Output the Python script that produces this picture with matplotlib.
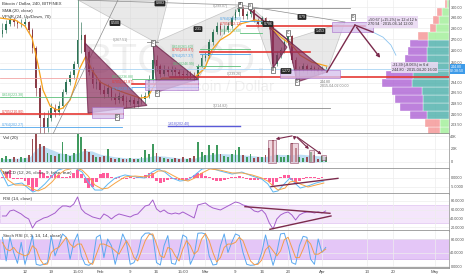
import numpy as np
import matplotlib.pyplot as plt
from matplotlib.patches import Polygon, Rectangle
from matplotlib.transforms import blended_transform_factory
from matplotlib.ticker import NullLocator, NullFormatter

plt.rcParams['font.family'] = ['Liberation Sans', 'DejaVu Sans']

# days counted from 1 Jan 2015 (= 0), one bar per day
bar_days = list(range(5, 92))
first_open = 275.0
closes = [278.4, 284.0, 287.8, 285.9, 284.0, 284.0, 285.9, 278.4, 262.2, 229.8,
          208.1, 201.3, 208.1, 215.1, 212.3, 216.5, 226.8, 234.4, 239.9, 248.8,
          269.3, 273.8, 258.8, 242.3, 232.9, 234.4, 228.3, 225.3, 229.8, 223.1,
          220.9, 223.8, 220.1, 219.4, 220.9, 218.0, 220.1, 221.6, 223.8, 236.0,
          252.1, 247.1, 240.7, 243.9, 242.3, 243.9, 242.3, 240.7, 239.9, 240.7,
          239.1, 237.5, 247.1, 253.7, 255.4, 267.5, 276.5, 282.1, 278.4, 278.4,
          282.1, 289.7, 295.5, 299.5, 291.6, 293.6, 297.5, 287.8, 284.0, 289.7,
          285.9, 282.1, 248.8, 256.2, 260.5, 267.5, 272.9, 252.1, 237.5, 243.9,
          247.1, 243.9, 245.5, 243.9, 242.3, 243.9, 244.8]
highs = [285, 288, 292, 291, 288, 289, 290, 287, 280, 264,
         232, 212, 214, 219, 218, 220, 229, 237, 243, 251,
         310, 286, 275, 261, 246, 240, 236, 232, 233, 230,
         226, 227, 225, 224, 224, 223, 223, 225, 227, 240,
         268, 256, 249, 248, 247, 247, 246, 245, 244, 244,
         243, 242, 249, 257, 259, 270, 279, 286, 285, 283,
         286, 292, 298, 302, 301, 297, 300, 299, 290, 292,
         291, 288, 283, 260, 263, 270, 276, 274, 255, 247,
         250, 249, 248, 247, 246, 247, 247]
lows = [272, 276, 282, 282, 280, 281, 281, 276, 258, 224,
        195, 185, 199, 206, 209, 210, 215, 225, 232, 237,
        246, 258, 256, 240, 230, 229, 225, 222, 223, 221,
        218, 219, 217, 216, 217, 215, 216, 218, 219, 222,
        234, 243, 238, 239, 239, 240, 239, 238, 237, 237,
        236, 235, 236, 246, 251, 254, 265, 275, 274, 275,
        277, 280, 288, 292, 289, 289, 291, 286, 281, 283,
        283, 279, 245, 247, 254, 258, 265, 250, 235, 237,
        242, 241, 242, 241, 240, 241, 242]
volume_k = [6, 9, 5, 7, 5, 8, 6, 10, 35, 50,
            28, 24, 14, 10, 9, 12, 31, 12, 9, 14,
            48, 38, 20, 16, 10, 8, 7, 9, 20, 6,
            5, 6, 4, 5, 6, 4, 5, 7, 18, 12,
            28, 14, 8, 6, 5, 4, 6, 5, 7, 5,
            6, 9, 31, 15, 11, 26, 14, 26, 12, 9,
            8, 12, 18, 23, 10, 7, 12, 6, 8, 7,
            10, 22, 34, 10, 7, 8, 10, 29, 22, 8,
            6, 7, 16, 10, 5, 9, 7]
macd_hist = [0.5, 3.5, 4.5, -0.6, -0.8, -0.5, -1.5, -4.0, -7.5, -5.0,
             4.5, 2.5, 1.0, 1.5, 2.0, 1.5, 0.8, 0.5, 1.0, 3.0,
             4.5, 2.0, -3.0, -5.5, -5.0, -2.0, 2.0, 3.0, 2.5, 0.5,
             -0.5, 0.5, -0.5, -0.3, 0.3, -0.5, 0.3, 0.5, 1.5, 2.5,
             3.0, -1.5, -2.8, -2.0, -1.0, -0.5, -0.5, -1.0, -1.3, -1.0,
             0.5, 1.5, 2.8, 2.5, 1.0, 0.5, -1.0, -1.7, -1.5, -1.0,
             -0.5, 0.3, 0.8, 1.0, 0.5, -0.3, -1.0, -1.2, -1.0, -0.5,
             -0.5, -2.5, -3.9, -2.5, 0.5, 1.7, 1.5, -1.0, -2.8, -1.5,
             -0.5, 0.3, 0.5, 0.3, -0.3, 0.3, 0.2]
rsi = [45.5, 45.5, 57.0, 59.3, 54.7, 50.1, 43.2, 38.6, 17.9, 31.7,
       36.3, 40.9, 43.2, 47.8, 52.4, 61.6, 68.5, 68.5, 66.2, 73.1,
       89.2, 61.6, 52.4, 47.8, 43.2, 40.9, 38.6, 50.1, 45.5, 38.6,
       45.5, 50.1, 47.8, 45.5, 43.2, 47.8, 50.1, 59.3, 68.5, 70.8,
       82.3, 61.6, 54.7, 59.3, 52.4, 50.1, 52.4, 50.1, 54.7, 50.1,
       45.5, 40.9, 70.8, 73.1, 75.4, 68.5, 63.9, 61.6, 59.3, 63.9,
       68.5, 73.1, 77.7, 75.4, 70.8, 68.5, 63.9, 57.0, 54.7, 59.3,
       50.1, 29.4, 15.6, 38.6, 47.8, 52.4, 54.7, 47.8, 36.3, 47.8,
       52.4, 54.7, 54.7, 52.4, 54.7, 52.4, 57.0]
stoch_k = [85, 15, 85, 40, 8, 70, 5, 45, 90, 5,
           2, 5, 10, 88, 30, 60, 95, 85, 20, 70,
           95, 30, 5, 2, 10, 85, 92, 25, 80, 60,
           5, 50, 95, 70, 5, 10, 35, 85, 97, 98,
           90, 10, 3, 60, 90, 8, 5, 40, 92, 85,
           5, 30, 97, 98, 95, 30, 3, 5, 60, 95,
           40, 70, 95, 90, 40, 5, 2, 3, 8, 40,
           92, 45, 2, 40, 95, 97, 60, 10, 5, 60,
           88, 85, 20, 5, 80, 40, 55]
stoch_d = [70, 50, 45, 55, 40, 35, 30, 35, 60, 50,
           20, 4, 6, 40, 50, 55, 70, 85, 65, 55,
           65, 65, 40, 10, 5, 35, 65, 65, 60, 55,
           45, 35, 55, 75, 55, 25, 15, 45, 75, 93,
           95, 65, 30, 25, 55, 50, 30, 15, 50, 75,
           60, 35, 45, 80, 96, 75, 40, 12, 25, 55,
           65, 65, 70, 85, 75, 45, 15, 4, 5, 18,
           48, 60, 45, 30, 45, 78, 85, 55, 25, 25,
           50, 78, 65, 35, 35, 42, 50]

# orange moving average, read as (day, price)
ma_days = [4.4, 8.4, 11.0, 12.9, 14.5, 15.8, 17.7, 19.5, 21.1, 23.0, 24.3, 25.6,
           27.2, 28.8, 31.0, 34.2, 37.6, 41.6, 43.7, 45.6, 47.5, 52.2, 56.2, 58.9,
           60.7, 62.9, 65.5, 68.2, 72.2, 74.8, 76.7, 79.4, 82.0, 84.2, 87.3, 91.3]
ma_vals = [289.7, 287.8, 282.1, 271.1, 247.9, 228.3, 216.5, 213.7, 215.1, 220.9, 231.9, 245.5,
           255.4, 243.9, 234.4, 229.8, 226.1, 222.3, 223.1, 232.9, 237.5, 237.5, 238.3, 245.5,
           260.5, 269.3, 274.7, 284.0, 287.8, 285.9, 279.3, 271.1, 264.9, 256.2, 250.4, 247.1]

# volume moving average (K)
vma_days = [4.4, 9.7, 12.3, 13.9, 15.5, 17.7, 20.3, 23.0, 25.1, 26.7, 28.8, 31.0, 35.0, 38.9, 42.9,
            45.6, 48.2, 52.2, 56.2, 58.9, 62.9, 66.9, 70.9, 74.8, 77.5, 81.5, 84.2, 88.1, 90.8]
vma_vals = [5, 6, 8, 20, 25, 20, 14, 11, 14, 18, 17, 12, 8, 6, 7,
            10, 9, 6, 6, 11, 13, 12, 10, 8, 12, 11, 12, 10, 9]

# MACD and signal lines (day, value)
macd_days = [4.4, 6.5, 8.4, 10.2, 11.8, 13.1, 14.5, 16.3, 18.2, 19.8,
             21.7, 24.3, 26.2, 27.8, 29.6, 31.5, 33.1, 35.0, 37.6, 40.3,
             42.9, 44.8, 46.4, 48.2, 50.1, 52.2, 54.4, 56.2, 58.1, 60.2,
             62.9, 66.1, 68.7, 71.4, 74.0, 75.6, 77.0, 78.3, 80.2, 81.5,
             82.8, 84.2, 86.3, 88.4, 90.5]
macd_line = [4.4, -4.4, -3.3, -2.8, -5.6, -7.8, -6.7, -3.3, 1.1, 4.4,
             5.6, 5.6, 3.3, -2.2, -6.7, -6.7, -3.3, 0.0, 1.7, 0.6,
             0.0, 3.3, 5.0, 3.3, 0.0, -1.7, -1.1, 1.7, 5.0, 5.6,
             3.9, 2.2, 3.3, 1.1, -0.6, -3.3, -7.8, -7.2, -2.8, 0.0,
             -2.8, -5.6, -4.4, -2.8, -1.7]
signal_line = [5.6, -1.1, -3.9, -3.9, -4.4, -6.1, -7.2, -5.6, -2.2, 1.7,
               4.4, 5.6, 4.4, 1.1, -3.9, -6.1, -5.6, -2.8, 0.6, 1.1,
               0.6, 1.7, 3.9, 3.9, 1.7, -0.6, -1.7, 0.0, 2.8, 5.0,
               4.4, 2.8, 2.8, 1.7, 0.0, -1.7, -4.4, -6.7, -5.6, -2.2,
               -1.7, -3.3, -5.0, -3.9, -2.8]

# volume profile rows, bottom to top
vp_edges = [197.1, 202.3, 207.7, 213.2, 218.9, 224.7, 230.6, 236.7, 243.0, 249.4,
            256.0, 262.8, 269.8, 277.0, 284.3, 291.8, 299.6, 307.5]
vp_up = [9, 9, 22, 26, 26, 27, 37, 36, 29, 22, 22, 21, 21, 13, 10, 7, 2]
vp_down = [12, 15, 17, 23, 28, 30, 30, 27, 27, 22, 19, 18, 10, 6, 6, 5, 2]
vp_value_area = [False, False, True, True, True, True, True, True, True, True,
                 True, True, False, False, False, False, False]

# axis ticks
date_ticks = [11, 18, 25, 31, 39, 46, 53, 59, 67, 74, 81, 90, 102, 109, 120]
date_labels = ['12', '19', '15:00', 'Feb', '9', '16', '15:00', 'Mar', '9', '16', '23',
               'Apr', '13', '20', 'May']
price_ticks = [300, 290, 280, 270, 260, 250, 234, 226.5, 218.5, 210.5, 203.5]
price_labels = ['300.00', '290.00', '280.00', '270.00', '260.00', '250.00', '234.00',
                '226.50', '218.50', '210.50', '203.50']
last_price = 244.80

# drawings on the price chart (day, price)
GREEN, RED, BLUE, GRAY, VIOLET, PINK = '#5cbf7a', '#e53935', '#4da3ea', '#8a8a8a', '#5a5ad8', '#f2a3a3'
fib_lines = [
    (223.38, 4.4, 36.8, GREEN, 0.6), (210.80, 4.4, 37.1, RED, 1.2), (202.27, 4.4, 36.8, BLUE, 0.6),
    (237.5, 4.4, 36.3, PINK, 0.6),
    (236.88, 39.5, 57.0, GREEN, 0.6), (232.87, 39.5, 57.0, RED, 1.2), (230.64, 39.5, 57.0, BLUE, 0.6),
    (261.62, 57.6, 70.9, GREEN, 0.6), (258.87, 57.6, 86.8, RED, 1.2), (257.37, 57.6, 70.9, BLUE, 0.6),
    (246.99, 56.6, 68.2, GREEN, 0.6), (238.4, 49.6, 123.8, RED, 1.2),
    (214.82, 35.0, 92.1, GRAY, 0.6), (202.40, 49.0, 68.2, VIOLET, 1.0),
    (267.51, 43.5, 46.4, GRAY, 0.6), (299.07, 67.4, 97.5, GRAY, 0.6),
    (286.93, 68.2, 74.0, BLUE, 0.6), (282.12, 70.0, 101.4, RED, 1.2), (275.60, 68.2, 74.0, GREEN, 0.6),
]
fib_labels = [
    ('0.618(223.38)', 4.9, 223.38, GREEN, 'bottom'), ('0.705(210.80)', 4.9, 210.80, RED, 'bottom'),
    ('0.764(202.27)', 4.9, 202.27, BLUE, 'bottom'),
    ('0.618(236.88)', 34.2, 236.88, GREEN, 'bottom'), ('0.705(232.87)', 34.2, 232.87, RED, 'bottom'),
    ('0.764(230.64)', 34.2, 230.64, BLUE, 'top'), ('0(267.51)', 34.3, 267.51, GRAY, 'bottom'),
    ('0.618(261.62)', 50.1, 261.62, GREEN, 'bottom'), ('0.705(258.87)', 50.1, 258.87, RED, 'bottom'),
    ('0.764(257.37)', 50.1, 257.37, BLUE, 'top'), ('0.618(246.99)', 50.4, 246.99, GREEN, 'bottom'),
    ('0(239.26)', 64.7, 239.26, GRAY, 'bottom'), ('1(214.82)', 61.0, 214.82, GRAY, 'bottom'),
    ('1.618(202.40)', 49.0, 202.40, VIOLET, 'bottom'), ('0(299.07)', 61.0, 299.07, GRAY, 'bottom'),
    ('0.764(286.93)', 62.9, 286.93, BLUE, 'bottom'), ('0.705(282.12)', 62.9, 282.12, RED, 'bottom'),
    ('0.618(275.60)', 62.9, 275.60, GREEN, 'bottom'),
]
purple_triangles = [
    [(26.97, 266.7), (27.77, 211.6), (43.46, 217.0)],
    [(45.05, 266.6), (46.12, 226.8), (57.02, 236.7)],
    [(76.17, 281.2), (76.97, 245.5), (80.69, 263.1)],
    [(80.96, 269.3), (83.35, 234.4), (91.33, 242.3)],
]
gray_triangles = [
    [(25.11, 307.5), (46.12, 266.6), (49.04, 307.5)],
    [(45.05, 266.6), (57.02, 236.7), (68.19, 302.4)],
    [(70.85, 301.5), (76.97, 243.9), (80.96, 269.3)],
    [(80.96, 269.3), (96.12, 285.9), (91.33, 242.3)],
]
gray_lines = [
    [(18.46, 197.4), (35.74, 307.5)],
    [(25.11, 307.5), (68.19, 302.4)],
    [(68.19, 302.4), (96.12, 285.9)],
]
maroon_lines = [
    [(70.85, 297.5), (80.96, 269.3)],
    [(91.33, 242.3), (98.78, 283.0)],
    [(98.78, 283.0), (103.56, 276.5)],
]
projection_arrow = [(98.78, 283.0), (105.96, 252.1)]
arc_points = [(103.56, 276.5), (106.22, 272.0), (108.35, 264.9), (109.68, 256.2)]
lav_boxes = [
    (28.83, 37.07, 208.1, 215.8), (42.93, 57.02, 228.3, 236.0),
    (78.8, 94.8, 237.5, 243.9), (92.66, 103.56, 276.5, 285.9),
]
ratio_tags = [('0.500', 34.95, 284.9), ('0.883', 46.91, 304.0), ('2.31', 57.02, 279.3),
              ('0.786', 75.64, 284.0), ('0.79', 84.68, 290.7), ('1.453', 89.47, 277.4),
              ('1.272', 80.43, 243.1)]
point_tags = [('D', 35.48, 208.8), ('C', 45.05, 266.6), ('D', 46.12, 226.1), ('A', 68.19, 303.2),
              ('X', 70.85, 301.5), ('B', 76.97, 243.9), ('C', 80.96, 275.6), ('D', 83.35, 234.4),
              ('D', 98.25, 290.7)]
measure_tags = [
    ('+50.67 (+15.2%) in 12 d 12 h\n270.94 · 2015-04-14 12:00', 102.2, 285.9),
    ('-21.39 (-8.06%) in 6 d\n244.80 · 2015-04-20 16:00', 108.6, 246.3),
]
# volume panel highlights (day0, day1, K0, K1) and arrows from one point
vol_boxes = [(75.6, 77.8, -1.5, 33.9), (81.5, 83.6, -1.5, 29.3), (86.5, 87.9, 0, 18.5), (89.7, 91.1, 3.1, 10.8)]
vol_arrow_from = (82.8, 41.0)
vol_arrow_to = [(76.97, 34.5), (82.5, 29.5), (87.07, 17.0), (90.5, 9.2)]
macd_trend = [(76.44, -4.8), (94.26, -0.2)]
rsi_trend_hi = [(69.52, 66.9), (92.13, 51.7)]
rsi_trend_lo = [(76.17, 14.9), (92.40, 45.5)]

UP, DOWN = '#2f7457', '#8b3c46'
MAROON = '#7b2a4c'

W, H = 466, 275
PLOT_R = 449
fig = plt.figure(figsize=(W / 100, H / 100), dpi=100)


def add_panel(top, bottom, share=None):
    return fig.add_axes([0, 1 - bottom / H, PLOT_R / W, (bottom - top) / H], sharex=share)


ax = add_panel(0, 134)
ax_vol = add_panel(134, 169, ax)
ax_macd = add_panel(169, 194, ax)
ax_rsi = add_panel(194, 231, ax)
ax_st = add_panel(231, 268, ax)
panels = [ax, ax_vol, ax_macd, ax_rsi, ax_st]

for a in panels:
    a.yaxis.tick_right()
    a.tick_params(axis='both', length=0, labelsize=2.7, labelcolor='#4a4a4a', pad=1.0)
    a.spines['top'].set_visible(False)
    a.spines['left'].set_visible(False)
    a.spines['right'].set_color('#a0a0a0')
    a.spines['right'].set_linewidth(0.6)
    a.spines['bottom'].set_color('#8a8a8a')
    a.spines['bottom'].set_linewidth(1.1)
    a.grid(True, color='#ededed', lw=0.5)
    a.set_axisbelow(True)
for a in panels[:-1]:
    a.tick_params(labelbottom=False)
ax_st.tick_params(axis='x', labelsize=3.2, pad=1.5)

# ---- price panel
ax.set_yscale('log')
opens = [first_open] + closes[:-1]
cols = [UP if c >= o else DOWN for o, c in zip(opens, closes)]
ax.vlines(bar_days, lows, highs, colors=cols, lw=0.45, zorder=2)
ax.bar(bar_days, [max(abs(c - o), 0.4) for o, c in zip(opens, closes)],
       bottom=[min(o, c) for o, c in zip(opens, closes)], width=0.45, color=cols, zorder=2)
ax.plot(ma_days, ma_vals, color='#f7a21b', lw=0.9, zorder=2.5)

for tri in gray_triangles:
    ax.add_patch(Polygon(tri, closed=True, fc='#cfcfcf', ec='#8c8c8c', lw=0.5, alpha=0.45, zorder=1.8))
for tri in purple_triangles:
    ax.add_patch(Polygon(tri, closed=True, fc='#8a2e5c', ec='#6e1f47', lw=0.8, alpha=0.72, zorder=3))
for seg in gray_lines:
    xs, ys = zip(*seg)
    ax.plot(xs, ys, color='#8c8c8c', lw=0.5, zorder=2.6)
for seg in maroon_lines:
    xs, ys = zip(*seg)
    ax.plot(xs, ys, color=MAROON, lw=1.0, zorder=3.2)
ax.annotate('', xy=projection_arrow[1], xytext=projection_arrow[0],
            arrowprops=dict(arrowstyle='-|>', color=MAROON, lw=1.0, mutation_scale=5), zorder=3.2)
ax.plot(*zip(*arc_points), color='#8cc4ef', lw=0.6, zorder=3)

for price, d0, d1, c, lw in fib_lines:
    ax.plot([d0, d1], [price, price], color=c, lw=lw, zorder=2.7)
ax.axhline(last_price, color='#a9d4f4', lw=0.6, zorder=2.6)
for txt, d, price, c, va in fib_labels:
    ax.text(d, price, txt, color=c, fontsize=2.5, ha='left', va=va, zorder=6)

for d0, d1, p0, p1 in lav_boxes:
    ax.add_patch(Rectangle((d0, p0), d1 - d0, p1 - p0, fc='#d8c4ee', ec='#a56ac8', lw=0.5,
                           alpha=0.8, zorder=3.1))
for txt, d, price in ratio_tags:
    ax.text(d, price, txt, color='white', fontsize=2.6, ha='center', va='center', zorder=7,
            bbox=dict(boxstyle='round,pad=0.25', fc='#262626', ec='none'))
for txt, d, price in point_tags:
    ax.text(d, price, txt, color='#222', fontsize=2.4, ha='center', va='center', zorder=7,
            bbox=dict(boxstyle='square,pad=0.2', fc='white', ec='#333', lw=0.4))
for txt, d, price in measure_tags:
    ax.text(d, price, txt, color='#333', fontsize=2.7, ha='left', va='center', zorder=7,
            linespacing=1.3, bbox=dict(boxstyle='square,pad=0.3', fc='#e9d9f2', ec='none', alpha=0.9))
ax.text(89.5, 232.9, '244.80\n2015-04-02 00:00', color='#777', fontsize=2.6, ha='left', va='center',
        zorder=7, linespacing=1.3)

# volume profile, drawn from the right edge
trans = blended_transform_factory(ax.transAxes, ax.transData)
for i in range(len(vp_up)):
    b, t = vp_edges[i], vp_edges[i + 1]
    up_w, dn_w = vp_up[i] / PLOT_R, vp_down[i] / PLOT_R
    cu, cd = ('#55b3ae', '#b26bd6') if vp_value_area[i] else ('#a5ef9d', '#f59999')
    ax.add_patch(Rectangle((1 - up_w, b), up_w, t - b, transform=trans, fc=cu, alpha=0.85,
                           ec='white', lw=0.3, zorder=1.6))
    ax.add_patch(Rectangle((1 - up_w - dn_w, b), dn_w, t - b, transform=trans, fc=cd, alpha=0.85,
                           ec='white', lw=0.3, zorder=1.6))

ax.text(75.6, 242.3, 'BTCUSD,', fontsize=30, color='black', alpha=0.06, ha='right', va='baseline', zorder=1)
ax.text(77.2, 227.6, 'Bitcoin / Dollar', fontsize=11, color='black', alpha=0.06, ha='right',
        va='baseline', zorder=1)

ax.text(0.005, 0.985, 'Bitcoin / Dollar, 240, BITFINEX', transform=ax.transAxes, fontsize=3.2,
        color='#333', va='top', zorder=8)
ax.text(0.005, 0.935, 'SMA (20, close)', transform=ax.transAxes, fontsize=3.2, color='#333', va='top', zorder=8)
ax.text(0.005, 0.885, 'VPVR (24, Up/Down, 70)', transform=ax.transAxes, fontsize=3.2, color='#333',
        va='top', zorder=8)

ax.set_ylim(197.4, 307.5)
ax.yaxis.set_minor_locator(NullLocator())
ax.yaxis.set_minor_formatter(NullFormatter())
ax.set_yticks(price_ticks)
ax.set_yticklabels(price_labels)
ax.text(1.003, last_price, '244.80\n02:38:50', transform=trans, fontsize=2.6, color='white',
        ha='left', va='center', linespacing=1.2, clip_on=False, zorder=9,
        bbox=dict(boxstyle='square,pad=0.2', fc='#3d9be9', ec='none'))

# ---- volume
ax_vol.fill_between(vma_days, vma_vals, color='#a9d3f0', alpha=0.75, lw=0, zorder=1)
vcols = ['#3f9a5e' if c == UP else '#9a4d52' for c in cols]
ax_vol.bar(bar_days, volume_k, width=0.5, color=vcols, zorder=2)
for d0, d1, k0, k1 in vol_boxes:
    ax_vol.add_patch(Rectangle((d0, k0), d1 - d0, k1 - k0, fc='#e3b8c8', ec=MAROON, lw=0.6,
                               alpha=0.55, zorder=3))
for end in vol_arrow_to:
    ax_vol.annotate('', xy=end, xytext=vol_arrow_from, zorder=4,
                    arrowprops=dict(arrowstyle='-|>', color=MAROON, lw=0.8, mutation_scale=4))
ax_vol.set_ylim(-10.8, 43.1)
ax_vol.set_yticks([40, 20, 0])
ax_vol.set_yticklabels(['40K', '20K', '0'])
ax_vol.text(0.006, 0.93, 'Vol (20)', transform=ax_vol.transAxes, fontsize=3.2, color='#333', va='top')

# ---- MACD
ax_macd.bar(bar_days, macd_hist, width=0.75, color='#ff5c9b', zorder=2)
ax_macd.plot(macd_days, macd_line, color='#5db8f3', lw=0.7, zorder=3)
ax_macd.plot(macd_days, signal_line, color='#f7a445', lw=0.7, zorder=3)
ax_macd.plot(*zip(*macd_trend), color=MAROON, lw=1.0, zorder=4)
ax_macd.set_ylim(-8.9, 5.0)
ax_macd.set_yticks([0, -5])
ax_macd.set_yticklabels(['0.0000', '-5.0000'])
ax_macd.text(0.006, 0.92, 'MACD (12, 26, close, 9, false, true)', transform=ax_macd.transAxes,
             fontsize=3.2, color='#333', va='top', zorder=5)

# ---- RSI
ax_rsi.axhspan(30, 70, fc='#f4e6fb', ec='#d9b8ee', lw=0.4, zorder=0.5)
ax_rsi.plot(bar_days, rsi, color='#a45ecb', lw=0.7, zorder=3)
ax_rsi.plot(*zip(*rsi_trend_hi), color=MAROON, lw=1.0, zorder=4)
ax_rsi.plot(*zip(*rsi_trend_lo), color=MAROON, lw=1.0, zorder=4)
ax_rsi.set_ylim(11, 96)
ax_rsi.set_yticks([80, 60, 40, 20])
ax_rsi.set_yticklabels(['80.0000', '60.0000', '40.0000', '20.0000'])
ax_rsi.text(0.006, 0.93, 'RSI (14, close)', transform=ax_rsi.transAxes, fontsize=3.2, color='#333', va='top')

# ---- Stoch RSI
ax_st.axhspan(20, 80, fc='#e4c6f7', ec='#c79ae6', lw=0.4, zorder=0.5)
ax_st.plot(bar_days, stoch_k, color='#5aa8f0', lw=0.7, zorder=3)
ax_st.plot(bar_days, stoch_d, color='#f39c4b', lw=0.7, zorder=3)
ax_st.set_ylim(-5.9, 103.7)
ax_st.set_yticks([80, 40, 0])
ax_st.set_yticklabels(['80.0000', '40.0000', '0.0000'])
ax_st.text(0.006, 0.93, 'Stoch RSI (3, 3, 14, 14, close)', transform=ax_st.transAxes, fontsize=3.2,
           color='#333', va='top', zorder=5)

ax.set_xlim(4.36, 123.8)
ax_st.set_xticks(date_ticks)
ax_st.set_xticklabels(date_labels)

fig.savefig('out.png', dpi=100, facecolor='white')
